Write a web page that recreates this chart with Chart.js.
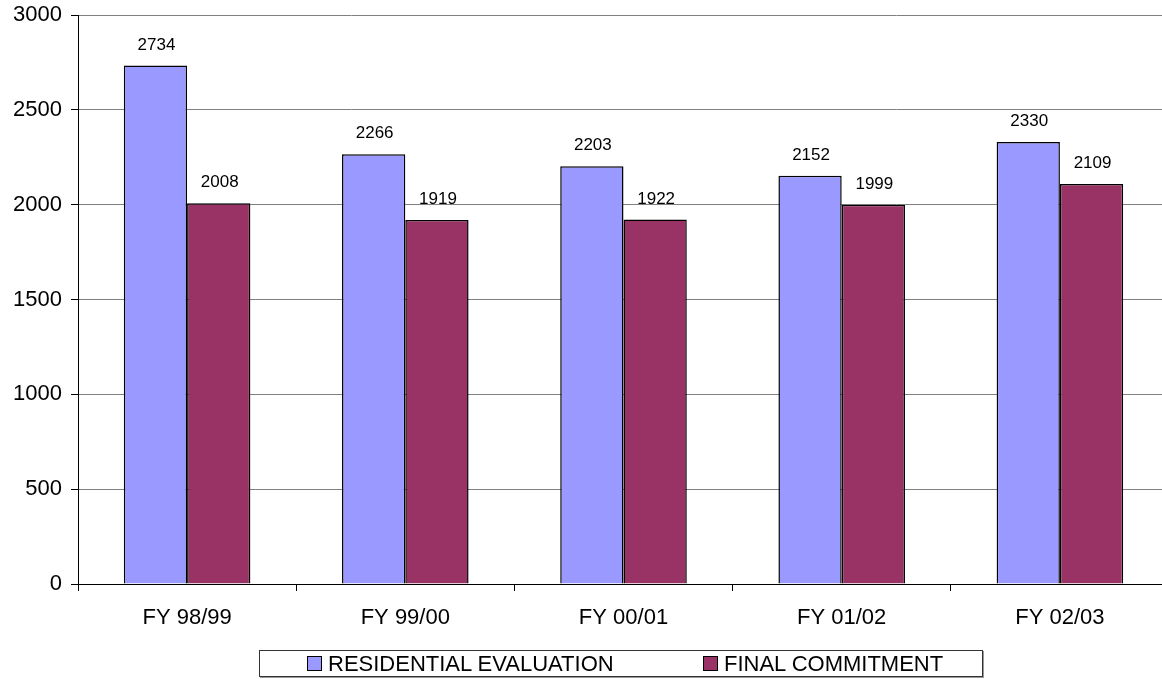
<!DOCTYPE html>
<html>
<head>
<meta charset="utf-8">
<script src="https://cdn.jsdelivr.net/npm/chart.js@4/dist/chart.umd.min.js"></script>
<style>
    html, body { margin: 0; padding: 0; background: #fff; overflow: hidden; }
    #wrap { position: relative; width: 1162px; height: 679px; overflow: hidden; }
    #legend {
        position: absolute; left: 259px; top: 650px; width: 722px; height: 25px;
        border: 1px solid #333; box-shadow: 1px 1px 0 #999;
        font-family: "Liberation Sans", Arial, sans-serif; font-size: 22px; color: #000;
    }
    #legend .item { position: absolute; top: 0px; line-height: 25px; white-space: nowrap; }
    #legend .box { display: inline-block; width: 13px; height: 13px; border: 1px solid #000; margin-right: 6px; vertical-align: 0; }
</style>
</head>
<body>
<div id="wrap">
    <canvas id="chart" width="1169" height="679"></canvas>
    <div id="legend"></div>
</div>
<script>
// chart data
const categories = ['FY 98/99', 'FY 99/00', 'FY 00/01', 'FY 01/02', 'FY 02/03'];
const residentialEvaluation = [2734, 2266, 2203, 2152, 2330];
const finalCommitment = [2008, 1919, 1922, 1999, 2109];
const seriesNames = ['RESIDENTIAL EVALUATION', 'FINAL COMMITMENT'];
const seriesColors = ['#9999FF', '#993366'];

const FONT = '"Liberation Sans", Arial, sans-serif';

// draws the value above each bar
const valueLabels = {
    id: 'valueLabels',
    afterDatasetsDraw(chart) {
        const ctx = chart.ctx;
        ctx.save();
        ctx.font = '17px ' + FONT;
        ctx.fillStyle = '#000';
        ctx.textAlign = 'center';
        ctx.textBaseline = 'bottom';
        chart.data.datasets.forEach((ds, i) => {
            chart.getDatasetMeta(i).data.forEach((bar, j) => {
                ctx.fillText(String(ds.data[j]), bar.x + 1, bar.y - 12);
            });
        });
        ctx.restore();
    }
};

const chart = new Chart(document.getElementById('chart'), {
    type: 'bar',
    data: {
        labels: categories,
        datasets: [
            { label: seriesNames[0], data: residentialEvaluation, backgroundColor: seriesColors[0] },
            { label: seriesNames[1], data: finalCommitment, backgroundColor: seriesColors[1] }
        ].map(ds => Object.assign(ds, {
            borderColor: '#000', borderWidth: 1.5, borderSkipped: 'start',
            categoryPercentage: 0.58, barPercentage: 1.0
        }))
    },
    options: {
        responsive: false,
        animation: false,
        layout: { padding: { top: 15, right: 0, bottom: 45, left: 0 } },
        plugins: { legend: { display: false }, tooltip: { enabled: false } },
        scales: {
            x: {
                grid: { offset: true, drawOnChartArea: false, drawTicks: true, tickLength: 7, color: '#000' },
                border: { display: true, color: '#000', width: 1 },
                ticks: { color: '#000', font: { family: FONT, size: 22 }, padding: 14, maxRotation: 0 },
                afterFit(scale) { scale.height = 50; }
            },
            y: {
                min: 0, max: 3000,
                ticks: {
                    stepSize: 500, color: '#000', font: { family: FONT, size: 22 }, padding: 9,
                    callback: v => String(v)
                },
                grid: { color: '#808080', tickColor: '#000', tickLength: 7, lineWidth: 1 },
                border: { display: true, color: '#000', width: 1 },
                afterFit(scale) {
                    scale.width = 78;
                    scale.paddingTop = 0;
                    scale.paddingBottom = 0;
                }
            }
        }
    },
    plugins: [valueLabels]
});

// legend box under the chart
const legendEl = document.getElementById('legend');
const legendLeft = [47, 443];
seriesNames.forEach((name, i) => {
    const item = document.createElement('span');
    item.className = 'item';
    item.style.left = legendLeft[i] + 'px';
    item.innerHTML = '<span class="box" style="background:' + seriesColors[i] + '"></span>' + name;
    legendEl.appendChild(item);
});
</script>
</body>
</html>
